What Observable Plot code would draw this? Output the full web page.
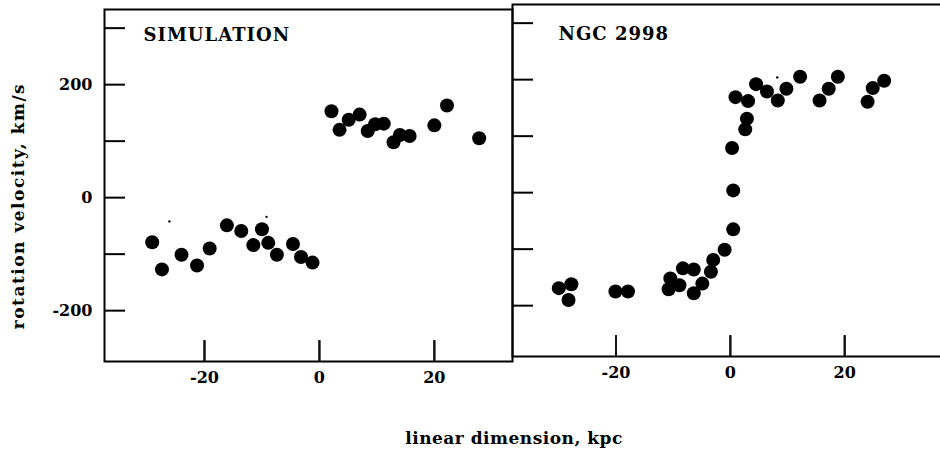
<!DOCTYPE html>
<html><head><meta charset="utf-8">
<script src="https://cdn.jsdelivr.net/npm/d3@7"></script>
<script src="https://cdn.jsdelivr.net/npm/@observablehq/plot@0.6"></script>
<style>
html,body{margin:0;padding:0;background:#fff;}
#wrap{position:relative;width:940px;height:453px;overflow:hidden;font-family:"DejaVu Serif",serif;font-weight:bold;color:#000;}
#left{position:absolute;left:0;top:0;width:520px;height:400px;}
#right{position:absolute;left:500px;top:-5px;width:450px;height:400px;}
#wrap svg{max-width:none !important;}
.ylab{position:absolute;left:18px;top:206px;transform:translate(-50%,-50%) rotate(-90deg);white-space:nowrap;font-size:17px;letter-spacing:1.5px;}
.xlab{position:absolute;left:514px;top:438px;transform:translate(-50%,-50%);white-space:nowrap;font-size:17px;letter-spacing:0.5px;}
svg g[aria-label="text"] text{letter-spacing:1px;}
</style></head>
<body><div id="wrap"><div id="left"></div><div id="right"></div>
<div class="ylab">rotation velocity, km/s</div><div class="xlab">linear dimension, kpc</div></div>
<script>
// Panel titles
const panelTitles = ["SIMULATION", "NGC 2998"];
// Axis ticks
const yTicks = [-200, -100, 0, 100, 200, 300];
const yTickLabels = [-200, 0, 200];
const xTicks = [-20, 0, 20];
// SIMULATION panel (kpc, km/s)
const simX = [-29.1, -27.4, -24.0, -21.3, -19.1, -16.1, -13.6, -11.5, -10.0, -8.9, -7.4, -4.6, -3.2, -1.2,
              2.1, 3.5, 5.1, 7.0, 8.4, 9.7, 11.2, 12.9, 14.0, 15.7, 20.0, 22.2, 27.8];
const simV = [-79, -127, -101, -120, -90, -49, -59, -84, -56, -80, -101, -82, -105, -115,
              153, 120, 138, 147, 118, 130, 131, 98, 111, 109, 128, 163, 105];
const simSpeckX = [-26.1, -9.2];
const simSpeckV = [-42, -34];
// NGC 2998 panel (kpc, km/s)
const ngcX = [-30.0, -27.8, -28.3, -20.1, -17.9, -10.8, -10.5, -8.9, -8.3, -6.4, -6.4, -4.9, -3.4, -3.0, -1.0,
              0.5, 0.5, 0.3, 0.9, 3.1, 2.9, 2.6, 4.5, 6.4, 8.3, 9.8, 12.2, 15.6, 17.2, 18.8, 24.0, 24.9, 26.9];
const ngcV = [-169, -162, -190, -175, -175, -171, -152, -164, -134, -136, -178, -161, -140, -119, -101,
              -65, 4, 79, 169, 162, 131, 112, 192, 179, 163, 184, 205, 163, 184, 205, 161, 185, 198];
const ngcSpeckX = [8.2];
const ngcSpeckV = [204];

const yDomain = [-290, 333];
const H = 400, MT = 9, MB = 39;
const fh = H - MT - MB;
const tickPx = 21;
const tickUnits = tickPx * (yDomain[1] - yDomain[0]) / fh; // tick length in y-scale units

function panel({xs, vs, sx, sv, title, width, marginLeft, marginRight, xDomain, showY, tdx, tdy}) {
  const fw = width - marginLeft - marginRight;
  const pts = xs.map((x, i) => ({x, v: vs[i]}));
  const specks = sx.map((x, i) => ({x, v: sv[i]}));
  const yt = yTicks.map(t => ({t}));
  const xt = xTicks.map(t => ({t, lo: yDomain[0], hi: yDomain[0] + tickUnits}));
  return Plot.plot({
    width, height: H, marginLeft, marginRight, marginTop: MT, marginBottom: MB,
    style: {fontFamily: "'DejaVu Serif', serif", fontSize: "16px", fontWeight: "bold", background: "transparent", color: "#000"},
    x: {domain: xDomain, ticks: xTicks, tickSize: 0, tickPadding: 10, label: null, tickFormat: d => String(d)},
    y: showY ? {domain: yDomain, ticks: yTickLabels, tickSize: 0, tickPadding: 12, label: null, tickFormat: d => String(d)}
             : {domain: yDomain, axis: null},
    marks: [
      Plot.frame({stroke: "#000", strokeWidth: 2}),
      Plot.ruleY(yt, {y: "t", stroke: "#000", strokeWidth: 2, insetRight: fw - tickPx}),
      Plot.dot(pts, {x: "x", y: "v", r: 7, fill: "#000", stroke: null}),
      Plot.dot(specks, {x: "x", y: "v", r: 1.2, fill: "#000", stroke: null}),
      Plot.text([title], {frameAnchor: "top-left", dx: tdx, dy: tdy, lineAnchor: "top", fontSize: 18, fontWeight: "bold", fill: "#000"}),
      Plot.link(xt, {x1: "t", x2: "t", y1: "lo", y2: "hi", stroke: "#111", strokeWidth: 2}),
      Plot.ruleX(xt, {x: "t", y1: "lo", y2: "hi", stroke: "#111", strokeWidth: 2})
    ]
  });
}

document.getElementById("left").appendChild(panel({
  xs: simX, vs: simV, sx: simSpeckX, sv: simSpeckV, title: panelTitles[0],
  width: 520, marginLeft: 104, marginRight: 8, xDomain: [-37.4, 33.6], showY: true, tdx: 39, tdy: 19
}));
document.getElementById("right").appendChild(panel({
  xs: ngcX, vs: ngcV, sx: ngcSpeckX, sv: ngcSpeckV, title: panelTitles[1],
  width: 450, marginLeft: 12, marginRight: 0, xDomain: [-38.1, 38.5], showY: false, tdx: 46, tdy: 23
}));
</script>
</body></html>
